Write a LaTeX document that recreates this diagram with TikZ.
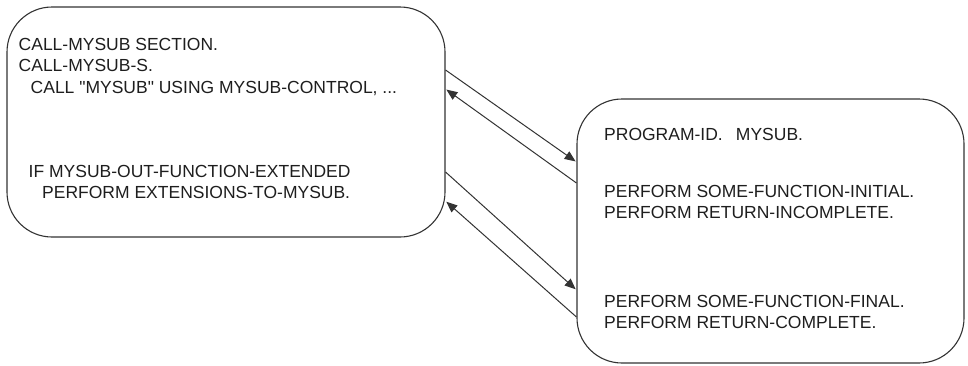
\documentclass[tikz,border=0pt]{standalone}
\usepackage{fontspec}
\setmainfont{Liberation Sans}
\usetikzlibrary{arrows.meta}
\definecolor{ink}{HTML}{1E1E1E}
\definecolor{edge}{HTML}{333333}
\tikzset{
  panel/.style={draw=edge, line width=1.1pt, rounded corners=45pt, inner sep=0pt},
  code/.style={anchor=base west, inner sep=0pt, text=ink,
    font=\fontsize{17.5}{21}\selectfont},
  flow/.style={draw=edge, line width=1pt,
    -{Triangle[length=11pt,width=9pt]}, shorten >=1pt}
}
\begin{document}
\begin{tikzpicture}[x=1pt,y=-1pt]
  \useasboundingbox (0,0) rectangle (968,365);

  % calling program
  \node[panel, minimum width=438pt, minimum height=230pt] (L) at (226,122) {};
  \node[code] (l1) at (18.5,50)  {CALL-MYSUB SECTION.};
  \node[code] (l2) at (18.5,71.5){CALL-MYSUB-S.};
  \node[code] (l3) at (30.5,93)  {CALL \textquotedbl MYSUB\textquotedbl{} USING MYSUB-CONTROL, ...};
  \node[code] (l4) at (28.5,177) {IF MYSUB-OUT-FUNCTION-EXTENDED};
  \node[code] (l5) at (42,198.5) {PERFORM EXTENSIONS-TO-MYSUB.};

  % called subprogram
  \node[panel, minimum width=387pt, minimum height=264pt] (R) at (770.5,231) {};
  \node[code] (r1) at (604,140)  {PROGRAM-ID.\hspace{0.75em}MYSUB.};
  \node[code] (r2) at (604,197)  {PERFORM SOME-FUNCTION-INITIAL.};
  \node[code] (r3) at (604,218.5){PERFORM RETURN-INCOMPLETE.};
  \node[code] (r4) at (604,307)  {PERFORM SOME-FUNCTION-FINAL.};
  \node[code] (r5) at (604,328.5){PERFORM RETURN-COMPLETE.};

  % call / return traffic between the two programs
  \draw[flow] (L.east |- 0,70)  -- (R.west |- 0,162);
  \draw[flow] (R.west |- 0,183) -- (L.east |- 0,89);
  \draw[flow] (L.east |- 0,172) -- (R.west |- 0,290);
  \draw[flow] (R.west |- 0,317) -- (L.east |- 0,201);
\end{tikzpicture}
\end{document}
